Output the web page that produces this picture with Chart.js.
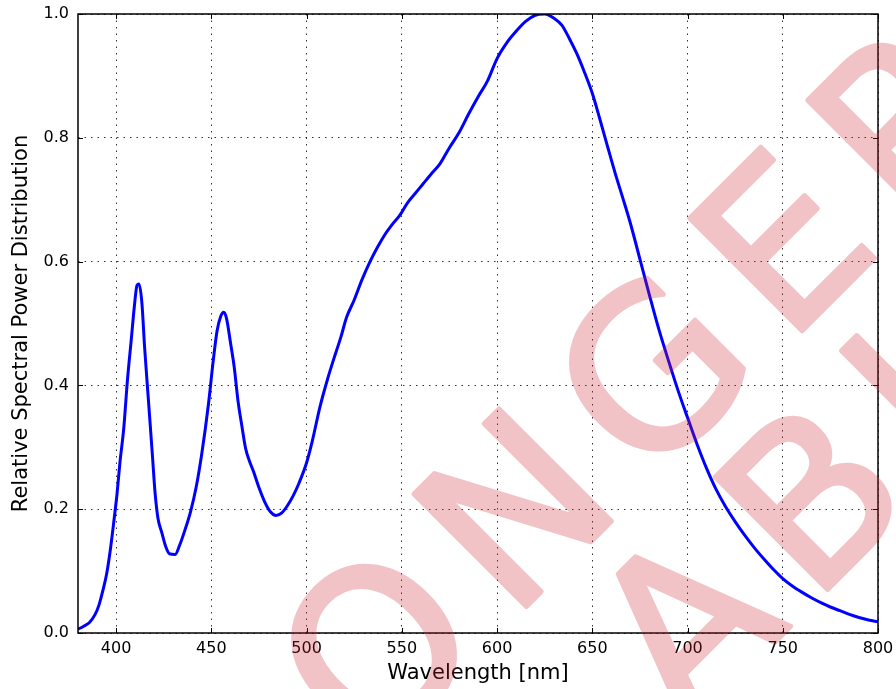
<!DOCTYPE html>
<html>
<head>
<meta charset="utf-8">
<script src="https://cdn.jsdelivr.net/npm/chart.js@4.4.0/dist/chart.umd.min.js"></script>
<style>
  html, body { margin: 0; padding: 0; background: #fff; }
  canvas { display: block; }
</style>
</head>
<body>
<canvas id="spdChart" width="896" height="689"></canvas>
<script>
// Spectral power distribution
const wavelengths = [
    380, 383, 386, 389, 391, 393, 395, 397, 399, 400.5, 402, 404, 406, 408, 409.5, 411, 412, 413.5,
    415, 417, 419, 420.5, 422, 424, 426, 428, 431, 433.5, 436, 439, 442, 445, 448.5, 451, 453,
    455, 456.5, 458, 460, 462, 464, 466, 468, 470, 472, 475, 478, 481, 484, 487, 490, 493, 496,
    500, 503, 507, 511, 514, 518, 521, 525, 529, 533, 537, 541, 545, 549, 553, 557, 561, 565,
    570, 575, 580, 585, 590, 595, 600, 605, 610, 615, 620, 625, 630, 634, 638, 642, 646, 650,
    654, 658, 662, 666, 670, 675, 680, 685, 690, 695, 700, 705, 710, 715, 720, 725, 730, 735,
    740, 745, 750, 755, 760, 765, 770, 775, 780, 785, 790, 795, 800
];
const relativePower = [
    0.006, 0.011, 0.017, 0.030, 0.045, 0.068, 0.095, 0.135, 0.185, 0.225, 0.275, 0.330, 0.410, 0.475, 0.525, 0.562, 0.564, 0.535,
    0.460, 0.375, 0.290, 0.225, 0.185, 0.162, 0.140, 0.128, 0.127, 0.143, 0.165, 0.195, 0.235, 0.290, 0.370, 0.440, 0.488,
    0.512, 0.518, 0.508, 0.470, 0.430, 0.375, 0.335, 0.298, 0.278, 0.262, 0.235, 0.212, 0.196, 0.190, 0.194, 0.206, 0.222, 0.242,
    0.275, 0.310, 0.365, 0.410, 0.440, 0.478, 0.510, 0.538, 0.570, 0.598, 0.622, 0.643, 0.660, 0.675, 0.695, 0.710, 0.725, 0.740,
    0.758, 0.784, 0.808, 0.838, 0.866, 0.892, 0.928, 0.953, 0.972, 0.988, 0.998, 1.000, 0.993, 0.982, 0.960, 0.935, 0.905, 0.872,
    0.830, 0.786, 0.743, 0.703, 0.662, 0.604, 0.546, 0.490, 0.440, 0.392, 0.348, 0.305, 0.266, 0.232, 0.204, 0.180, 0.158, 0.138,
    0.120, 0.103, 0.088, 0.076, 0.066, 0.057, 0.049, 0.042, 0.036, 0.030, 0.025, 0.021, 0.018
];
const xTicks = [400, 450, 500, 550, 600, 650, 700, 750, 800];
const yTicks = [0.0, 0.2, 0.4, 0.6, 0.8, 1.0];

const FONT = 'DejaVu Sans';

// Axes frame and the small inward tick marks
const frame = {
    id: 'frame',
    afterDatasetsDraw(chart) {
        const { ctx, chartArea: a, scales } = chart;
        ctx.save();
        ctx.strokeStyle = '#000';
        ctx.lineWidth = 1.5;
        ctx.strokeRect(a.left, a.top, a.right - a.left, a.bottom - a.top);
        ctx.lineWidth = 1;
        ctx.beginPath();
        xTicks.forEach(v => {
            const px = Math.round(scales.x.getPixelForValue(v)) + 0.5;
            ctx.moveTo(px, a.bottom); ctx.lineTo(px, a.bottom - 5);
            ctx.moveTo(px, a.top); ctx.lineTo(px, a.top + 5);
        });
        yTicks.forEach(v => {
            const py = Math.round(scales.y.getPixelForValue(v)) + 0.5;
            ctx.moveTo(a.left, py); ctx.lineTo(a.left + 5, py);
            ctx.moveTo(a.right, py); ctx.lineTo(a.right - 5, py);
        });
        ctx.stroke();
        ctx.restore();
    }
};

// Diagonal "NO LONGER AVAILABLE" stamp over the whole picture
const stamp = {
    id: 'stamp',
    afterDraw(chart) {
        const off = document.createElement('canvas');
        off.width = chart.width;
        off.height = chart.height;
        const o = off.getContext('2d');
        o.rotate(-Math.PI / 4);
        o.font = '218px "' + FONT + '"';
        o.letterSpacing = '29px';
        o.fillStyle = o.strokeStyle = 'rgb(205, 35, 45)';
        o.lineWidth = 5;
        o.lineJoin = 'round';
        o.textAlign = 'left';
        o.textBaseline = 'alphabetic';
        const eStart = 333 + o.measureText('E').actualBoundingBoxLeft;
        const x1 = eStart - o.measureText('NO LONG').width;
        const bStart = 168 + o.measureText('B').actualBoundingBoxLeft;
        const x2 = bStart - o.measureText('AVAILA').width;
        o.fillText('NO LONGER', x1, 801);
        o.strokeText('NO LONGER', x1, 801);
        o.fillText('AVAILABLE', x2, 1002);
        o.strokeText('AVAILABLE', x2, 1002);

        const ctx = chart.ctx;
        ctx.save();
        ctx.setTransform(1, 0, 0, 1, 0, 0);
        ctx.globalAlpha = 0.27;
        ctx.drawImage(off, 0, 0);
        ctx.restore();
    }
};

function createSpdChart() {
    const ctx = document.getElementById('spdChart').getContext('2d');

    const data = {
        datasets: [{
            data: wavelengths.map((w, i) => ({ x: w, y: relativePower[i] })),
            borderColor: '#0000ff',
            borderWidth: 3,
            pointRadius: 0,
            cubicInterpolationMode: 'monotone',
            fill: false
        }]
    };

    const gridStyle = {
        color: 'rgba(0, 0, 0, 0.8)',
        lineWidth: 1,
        drawTicks: false
    };

    const config = {
        type: 'line',
        data: data,
        options: {
            responsive: false,
            animation: false,
            devicePixelRatio: 1,
            layout: { padding: { top: 14, right: 18, left: 0, bottom: 0 } },
            scales: {
                x: {
                    type: 'linear',
                    min: 380,
                    max: 800,
                    afterBuildTicks: scale => { scale.ticks = xTicks.map(v => ({ value: v })); },
                    afterFit: scale => {
                        scale.height = 56;
                        scale.paddingLeft = 0;
                        scale.paddingRight = 0;
                    },
                    grid: gridStyle,
                    border: { display: false, dash: [1.5, 5] },
                    ticks: {
                        color: '#000',
                        padding: 6,
                        font: { family: FONT, size: 16 },
                        maxRotation: 0,
                        callback: v => String(v)
                    },
                    title: {
                        display: true,
                        text: 'Wavelength [nm]',
                        color: '#000',
                        font: { family: FONT, size: 21 },
                        padding: { top: 0, bottom: 3 }
                    }
                },
                y: {
                    min: 0,
                    max: 1,
                    afterBuildTicks: scale => { scale.ticks = yTicks.map(v => ({ value: v })); },
                    afterFit: scale => {
                        scale.width = 78;
                        scale.paddingTop = 0;
                        scale.paddingBottom = 0;
                    },
                    grid: gridStyle,
                    border: { display: false, dash: [1.5, 5] },
                    ticks: {
                        color: '#000',
                        padding: 9,
                        font: { family: FONT, size: 16 },
                        callback: v => Number(v).toFixed(1)
                    },
                    title: {
                        display: true,
                        text: 'Relative Spectral Power Distribution',
                        color: '#000',
                        font: { family: FONT, size: 21 },
                        padding: { top: 9, bottom: 0 }
                    }
                }
            },
            plugins: {
                legend: { display: false },
                tooltip: { enabled: false }
            }
        },
        plugins: [frame, stamp]
    };

    return new Chart(ctx, config);
}

document.addEventListener('DOMContentLoaded', () => {
    createSpdChart();
});
</script>
</body>
</html>
